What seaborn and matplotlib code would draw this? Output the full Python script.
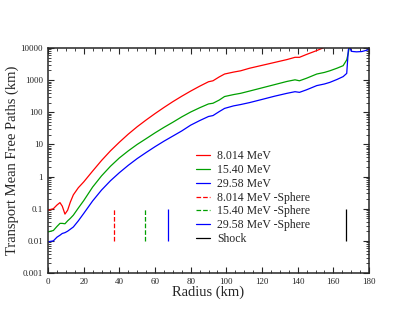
import matplotlib
matplotlib.use("Agg")
import matplotlib.pyplot as plt
import matplotlib.ticker as mticker
from matplotlib.lines import Line2D
import seaborn as sns
import pandas as pd

# radius grid (km) and transport mean free paths (km)
radius = [0, 3, 5, 6.7, 8, 9.5, 11, 12.5, 14.2, 17, 20, 25, 30, 35, 40, 45,
          50, 55, 60, 65, 70, 75, 80, 85, 90, 92.5, 96, 99, 104, 108, 113,
          120, 127, 134, 138.5, 141, 145, 150.7, 155, 158, 162, 165.5, 167.5,
          168.4, 169.2, 170, 171, 173, 176, 180]

mfp_8 = [0.09, 0.10, 0.13, 0.155, 0.12, 0.068, 0.09, 0.16, 0.27, 0.45, 0.68,
         1.48, 3.16, 6.3, 11.7, 20.9, 35.5, 57.5, 91, 141, 214, 316, 457, 646,
         891, 955, 1259, 1549, 1778, 1950, 2344, 2884, 3548, 4365, 5129, 5129,
         6310, 8318, 10471, 12023, 14454, 17783, 22387, 22000, 20000, 15000,
         14000, 14000, 14000, 14000]

mfp_15 = [0.019, 0.021, 0.028, 0.035, 0.035, 0.034, 0.042, 0.05, 0.063, 0.105,
          0.178, 0.47, 1.05, 2.09, 3.8, 6.3, 10, 15.1, 22.9, 33.9, 49, 72, 102,
          138, 182, 191, 240, 309, 355, 389, 457, 575, 724, 912, 1023, 955,
          1148, 1549, 1738, 1950, 2344, 2818, 4266, 7079, 12589, 12000, 11000,
          11000, 11000, 11000]

mfp_29 = [0.0093, 0.010, 0.013, 0.015, 0.017, 0.018, 0.02, 0.023, 0.027, 0.042,
          0.071, 0.174, 0.38, 0.74, 1.32, 2.24, 3.63, 5.6, 8.5, 12.6, 18.2,
          26.3, 39.8, 55, 74, 79, 105, 132, 158, 174, 200, 251, 316, 389, 437,
          417, 501, 676, 759, 851, 1047, 1288, 1622, 8710, 11220, 7943, 7762,
          7586, 7762, 8913]

energies = ["8.014 MeV", "15.40 MeV", "29.58 MeV"]
colors = ["#ff0000", "#00a000", "#0000ff"]

# sphere radii and shock position, marked as short vertical bars
sphere_r = [37.0, 54.6, 67.5]
sphere_styles = ["--", "--", "-"]
shock_r = 167.1
bar_span = [0.01, 0.1]

df = pd.DataFrame({
    "Radius": radius * 3,
    "MFP": mfp_8 + mfp_15 + mfp_29,
    "Energy": [e for e in energies for _ in radius],
})

sns.set_style("ticks")
plt.rcParams["font.family"] = ["Liberation Serif", "DejaVu Serif"]

fig = plt.figure(figsize=(4.15, 3.21), dpi=100)
ax = fig.add_axes([0.1157, 0.1495, 0.7735, 0.701])

sns.lineplot(data=df, x="Radius", y="MFP", hue="Energy", palette=colors,
             hue_order=energies, linewidth=0.9, legend=False, ax=ax,
             estimator=None, sort=False)

for r, c, ls in zip(sphere_r, colors, sphere_styles):
    ax.vlines(r, bar_span[0], bar_span[1], colors=c, linestyles=ls, linewidth=0.9)
ax.vlines(shock_r, bar_span[0], bar_span[1], colors="black", linewidth=0.9)

ax.set_yscale("log")
ax.set_xlim(0, 180)
ax.set_ylim(0.001, 10000)
ax.xaxis.set_major_locator(mticker.MultipleLocator(20))
ax.xaxis.set_minor_locator(mticker.MultipleLocator(5))
ax.yaxis.set_major_locator(mticker.LogLocator(base=10, numticks=10))
ax.yaxis.set_minor_locator(mticker.LogLocator(base=10, subs=range(2, 10), numticks=20))
ax.yaxis.set_major_formatter(mticker.FuncFormatter(lambda v, p: "%g" % v))
ax.yaxis.set_minor_formatter(mticker.NullFormatter())
ax.tick_params(which="both", direction="in", top=True, right=True, labelsize=6.5)
ax.tick_params(which="major", length=4, width=0.8)
ax.tick_params(which="minor", length=2, width=0.6)
for s in ax.spines.values():
    s.set_linewidth(1.1)

ax.set_xlabel("Radius (km)", fontsize=10.5, labelpad=0)
ax.set_ylabel("Transport Mean Free Paths (km)", fontsize=10.5, labelpad=1)

handles = [Line2D([], [], color=c, lw=0.9) for c in colors]
handles += [Line2D([], [], color=c, lw=0.9, ls=ls) for c, ls in zip(colors, sphere_styles)]
handles.append(Line2D([], [], color="black", lw=0.9))
labels = energies + [e + " -Sphere" for e in energies] + ["Shock"]
ax.legend(handles, labels, loc="upper left", bbox_to_anchor=(0.46, 0.545),
          frameon=False, fontsize=8.5, handlelength=1.2, handletextpad=0.6,
          labelspacing=0.15, borderaxespad=0, borderpad=0)

fig.savefig("out.png", dpi=100)
